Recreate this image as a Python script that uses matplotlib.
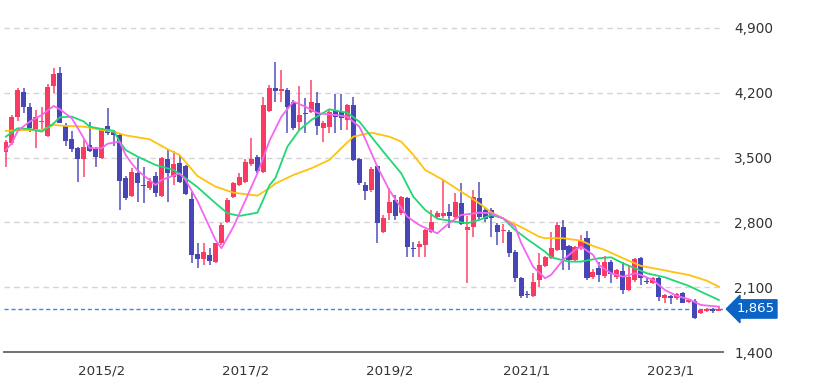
import matplotlib
matplotlib.use("Agg")
import matplotlib.pyplot as plt
import numpy as np

# monthly candles, 2013/10 .. 2023/9 (index 0..119)
opens = [3564, 3661, 3936, 4205, 4050, 3798, 3885, 3734, 4274, 4411,
         3842, 3704, 3607, 3485, 3636, 3600, 3492, 3838, 3788, 3744,
         3277, 3089, 3331, 3207, 3169, 3302, 3089, 3482, 3294, 3438,
         3410, 3053, 2459, 2402, 2448, 2376, 2575, 2808, 3078, 3204,
         3240, 3428, 3510, 3348, 4004, 4249, 4223, 4230, 4104, 3888,
         3985, 3996, 4087, 3823, 3834, 4014, 3990, 3906, 4068, 3485,
         3204, 3150, 3410, 2700, 2899, 3042, 2905, 3061, 2520, 2538,
         2556, 2700, 2856, 2870, 2910, 2862, 3013, 2718, 2747, 3061,
         2934, 2934, 2772, 2705, 2700, 2484, 2197, 2030, 2006, 2178,
         2330, 2413, 2502, 2748, 2545, 2394, 2521, 2628, 2214, 2304,
         2222, 2376, 2214, 2278, 2070, 2178, 2413, 2165, 2143, 2197,
         1981, 2009, 1981, 2035, 1944, 1955, 1825, 1843, 1862, 1847]
closes = [3672, 3942, 4230, 4044, 3817, 3942, 3890, 4266, 4400, 3877,
          3680, 3590, 3485, 3618, 3575, 3510, 3809, 3769, 3744, 3251,
          3061, 3348, 3223, 3197, 3248, 3121, 3493, 3338, 3431, 3240,
          3107, 2448, 2402, 2484, 2384, 2575, 2772, 3042, 3223, 3294,
          3456, 3485, 3356, 4068, 4249, 4220, 4238, 4050, 3823, 3960,
          3975, 4104, 3845, 3870, 3990, 3942, 3925, 4068, 3474, 3223,
          3142, 3374, 2791, 2845, 3024, 2870, 3078, 2532, 2510, 2567,
          2718, 2808, 2905, 2900, 2873, 3024, 2783, 2754, 3078, 2862,
          2834, 2845, 2700, 2715, 2467, 2197, 2006, 2020, 2160, 2340,
          2430, 2521, 2772, 2502, 2394, 2538, 2603, 2197, 2268, 2232,
          2376, 2243, 2286, 2070, 2207, 2402, 2197, 2155, 2197, 1998,
          2016, 1987, 2027, 1933, 1962, 1765, 1854, 1862, 1843, 1865]
highs = [3690, 3960, 4250, 4255, 4093, 4014, 4050, 4295, 4465, 4476,
         3870, 3791, 3618, 3690, 3888, 3618, 3817, 4033, 3798, 3762,
         3300, 3385, 3493, 3402, 3277, 3348, 3510, 3582, 3575, 3528,
         3420, 3132, 2575, 2582, 2521, 2582, 2790, 3060, 3240, 3330,
         3480, 3709, 3530, 4155, 4284, 4536, 4446, 4250, 4120, 4277,
         4141, 4338, 4212, 3900, 4010, 4184, 4190, 4080, 4158, 3500,
         3240, 3400, 3420, 2880, 3175, 3096, 3090, 3070, 2585, 2600,
         2730, 2934, 2920, 3266, 3000, 3120, 3223, 2870, 3150, 3240,
         2960, 2960, 2790, 2780, 2720, 2500, 2215, 2060, 2251, 2467,
         2440, 2700, 2808, 2830, 2560, 2550, 2660, 2710, 2300, 2370,
         2440, 2390, 2300, 2370, 2340, 2420, 2425, 2200, 2210, 2215,
         2030, 2020, 2040, 2045, 1975, 1970, 1860, 1880, 1875, 1900]
lows = [3400, 3640, 3900, 3979, 3780, 3601, 3798, 3720, 4201, 3870,
        3626, 3564, 3240, 3294, 3564, 3402, 3482, 3744, 3626, 2934,
        3040, 3078, 3024, 3007, 3150, 3078, 3078, 3024, 3204, 3222,
        3096, 2359, 2305, 2340, 2340, 2365, 2560, 2790, 3060, 3190,
        3220, 3410, 3330, 3330, 3990, 4104, 4104, 3763, 3800, 3798,
        3763, 3980, 3744, 3672, 3763, 3763, 3800, 3800, 3460, 3200,
        3042, 3130, 2575, 2680, 2827, 2827, 2880, 2430, 2430, 2430,
        2430, 2680, 2840, 2850, 2740, 2840, 2770, 2143, 2646, 2830,
        2800, 2640, 2556, 2580, 2430, 2160, 1981, 1980, 1995, 2106,
        2320, 2400, 2490, 2286, 2286, 2380, 2500, 2180, 2190, 2160,
        2200, 2150, 2190, 2030, 2060, 2160, 2120, 2130, 2130, 1955,
        1930, 1920, 1965, 1925, 1930, 1760, 1815, 1830, 1825, 1840]

# moving averages (candle index, price)
ma_short_idx = [0, 1, 2, 4, 6, 8, 9, 11, 12, 14, 16, 17, 19, 20, 21, 22, 25, 26, 29, 30,
                32, 35, 36, 38, 40, 42, 44, 46, 48, 50, 52, 55, 57, 59, 60, 62, 64, 65, 67, 69,
                72, 74, 76, 79, 81, 83, 85, 86, 88, 90, 91, 93, 95, 96, 98, 99, 101, 103, 105, 106,
                108, 110, 112, 114, 116, 119]
ma_short = [3582, 3654, 3790, 3888, 3960, 4058, 4022, 3925, 3820, 3601, 3601, 3650, 3672, 3528, 3438, 3360, 3204, 3258, 3330, 3258,
            3030, 2610, 2521, 2754, 3040, 3330, 3680, 3942, 4104, 4050, 3980, 3960, 3942, 3834, 3700, 3402, 3150, 3050, 2862, 2772,
            2682, 2791, 2880, 2905, 2899, 2844, 2754, 2580, 2322, 2197, 2232, 2394, 2502, 2538, 2450, 2340, 2251, 2214, 2251, 2232,
            2178, 2070, 2006, 1970, 1908, 1890]
ma_mid_idx = [0, 2, 4, 6, 8, 9, 11, 13, 14, 16, 18, 19, 20, 22, 25, 28, 30, 32, 35, 37,
              39, 42, 43, 44, 45, 47, 49, 51, 54, 56, 57, 59, 61, 63, 66, 68, 70, 72, 75, 77,
              79, 81, 83, 85, 87, 90, 91, 94, 96, 99, 101, 103, 105, 107, 110, 112, 114, 116, 119]
ma_mid = [3726, 3817, 3809, 3780, 3870, 3935, 3942, 3890, 3834, 3809, 3790, 3672, 3582, 3510, 3420, 3366, 3277, 3180, 3007, 2899,
          2870, 2905, 3050, 3200, 3280, 3618, 3798, 3906, 4022, 3996, 3985, 3888, 3726, 3564, 3330, 3078, 2934, 2840, 2808, 2791,
          2826, 2880, 2844, 2718, 2620, 2484, 2423, 2376, 2376, 2413, 2423, 2359, 2305, 2250, 2207, 2160, 2114, 2052, 1962]
ma_long_idx = [0, 3, 6, 8, 10, 13, 16, 18, 20, 24, 27, 29, 32, 35, 38, 42, 44, 45, 48, 51,
               54, 56, 58, 61, 64, 66, 68, 70, 73, 76, 79, 81, 84, 86, 89, 90, 93, 96, 98, 100,
               103, 106, 109, 111, 114, 117, 119]
ma_long = [3788, 3798, 3798, 3852, 3842, 3834, 3798, 3780, 3740, 3698, 3590, 3528, 3300, 3186, 3121, 3089, 3170, 3220, 3312, 3384,
           3474, 3601, 3726, 3769, 3726, 3672, 3530, 3366, 3258, 3132, 3007, 2910, 2810, 2750, 2646, 2629, 2629, 2603, 2545, 2502,
           2413, 2330, 2294, 2268, 2232, 2170, 2106]

tick_idx = [16, 40, 64, 87, 111]
tick_labels = ["2015/2", "2017/2", "2019/2", "2021/1", "2023/1"]
price_ticks = [1400, 2100, 2800, 3500, 4200, 4900]
last_price = 1865

UP = "#fb3a64"
DOWN = "#4646b6"

fig = plt.figure(figsize=(8.14, 3.9), dpi=100)
ax = fig.add_axes([4 / 814, 38 / 390, 719 / 814, 347 / 390])

x = np.arange(len(opens))
o = np.array(opens)
c = np.array(closes)
up = c >= o
colors = np.where(up, UP, DOWN)

# wicks then bodies
ax.vlines(x, lows, highs, colors=colors, linewidth=1.3, alpha=0.8, zorder=2)
body_low = np.minimum(o, c)
body_h = np.maximum(np.abs(c - o), 8)
ax.bar(x, body_h, bottom=body_low, width=0.84, color=colors, zorder=3)

ax.plot(ma_long_idx, ma_long, color="#ffc20e", lw=1.3, zorder=4)
ax.plot(ma_mid_idx, ma_mid, color="#1fd873", lw=1.3, zorder=4)
ax.plot(ma_short_idx, ma_short, color="#f566f0", lw=1.3, zorder=4)

# grid + current price line
for p in price_ticks[1:]:
    ax.axhline(p, color="#d4d4d4", lw=1, ls=(0, (4, 3)), zorder=1)
ax.axhline(last_price, color="#3b8be6", lw=1, ls=(0, (3, 2)), zorder=1)

ax.set_xlim(-0.3, 119.7)
ax.set_ylim(1400, 5148)

for s in ["top", "left", "right"]:
    ax.spines[s].set_visible(False)
ax.spines["bottom"].set_color("#666666")
ax.spines["bottom"].set_linewidth(1.3)

ax.set_xticks(tick_idx)
ax.set_xticklabels(tick_labels)
ax.yaxis.tick_right()
ax.set_yticks(price_ticks)
ax.set_yticklabels([f"{p:,}" for p in price_ticks])
ax.tick_params(axis="x", length=0, pad=9, labelsize=9.6, labelcolor="#333333")
ax.tick_params(axis="y", length=0, pad=8, labelsize=9.8, labelcolor="#333333")

ax.annotate(f"{last_price:,}", xy=(1.0, last_price), xycoords=("axes fraction", "data"),
            xytext=(9.5, 0), textcoords="offset points", va="center", ha="left",
            color="white", fontsize=9.6,
            bbox=dict(boxstyle="larrow,pad=0.2", fc="#0b63c5", ec="#0b63c5"))

fig.savefig("out.png", dpi=100)
